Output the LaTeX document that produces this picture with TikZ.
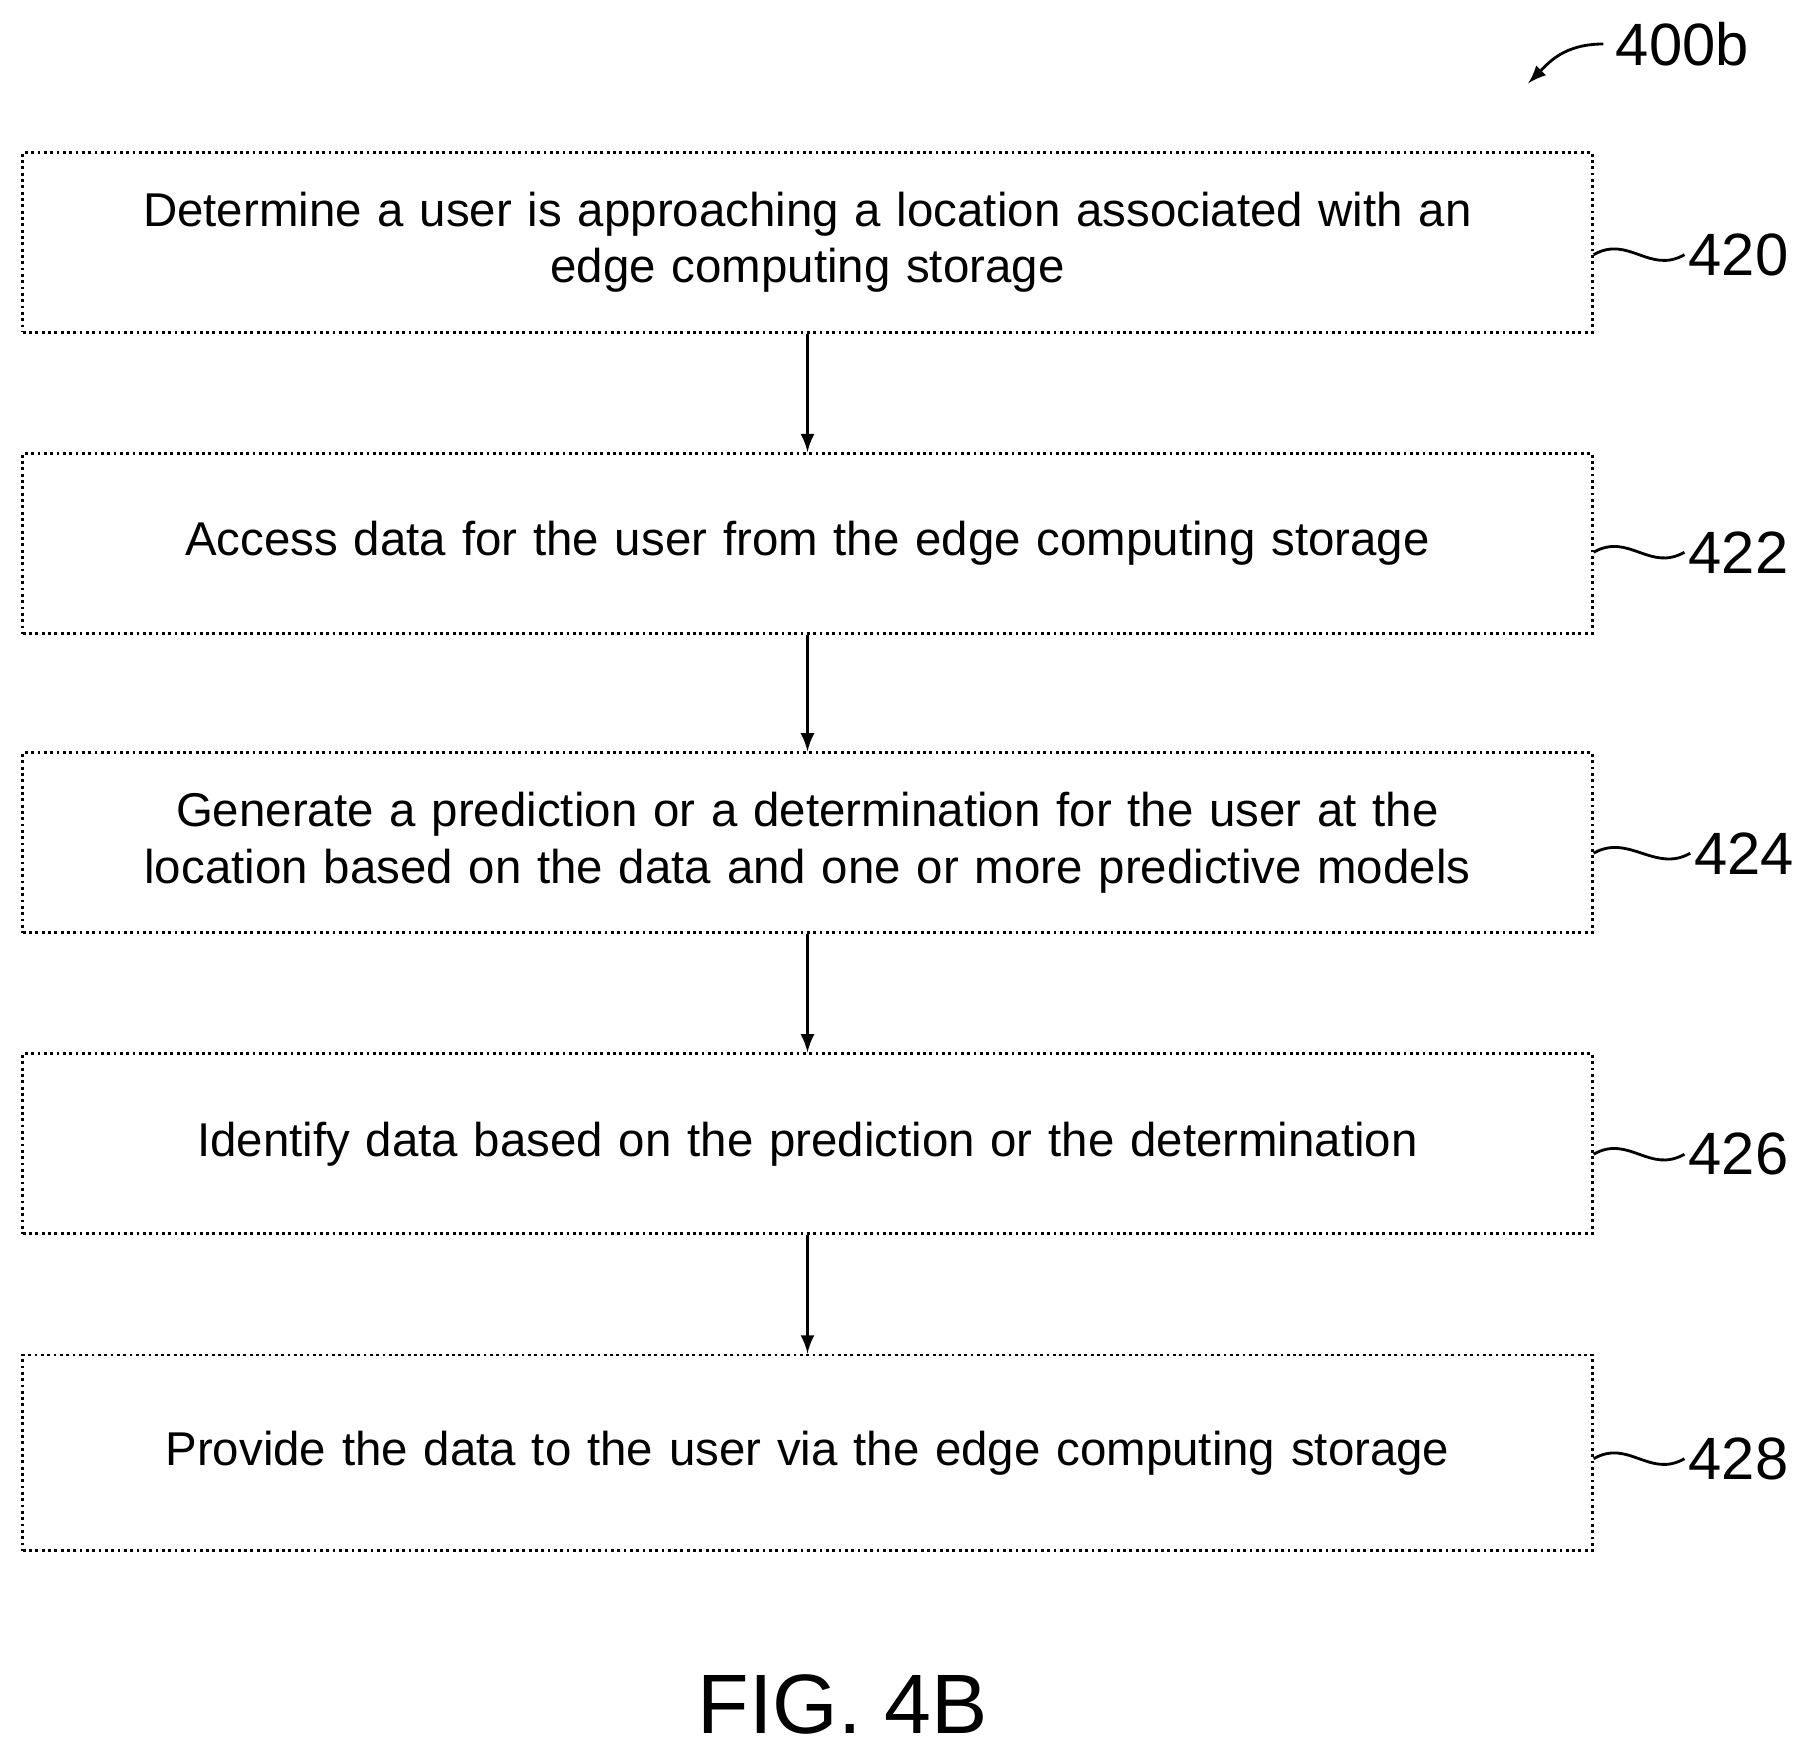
\documentclass[tikz,border=0pt]{standalone}
\usepackage{fontspec}
\setmainfont{Liberation Sans}
\usetikzlibrary{calc}

\begin{document}
\begin{tikzpicture}[x=0.011577cm, y=-0.011577cm,
    stepbox/.style={draw, thick, densely dotted, rectangle, minimum width=15.7cm, minimum height=1.8cm,
      align=center, text width=14.6cm, font=\fontsize{13.5}{16}\selectfont},
    ref/.style={font=\fontsize{17}{20}\selectfont, anchor=west, inner sep=1pt},
    flow/.style={draw, thick, -latex}]
    \useasboundingbox (0,0) rectangle (1560,1506);% Reference margins

    \node[stepbox] (s420) at (697.5,209.5) {Determine a user is approaching a location associated with an\\ edge computing storage};
    \node[stepbox] (s422) at (697.5,469.5) {Access data for the user from the edge computing storage};
    \node[stepbox] (s424) at (697.5,728) {Generate a prediction or a determination for the user at the\\ location based on the data and one or more predictive models};
    \node[stepbox] (s426) at (697.5,988) {Identify data based on the prediction or the determination};
    \node[stepbox, minimum height=1.96cm] (s428) at (697.5,1255) {Provide the data to the user via the edge computing storage};

    \node[ref] (r420) at (1455,220) {420};
    \node[ref] (r422) at (1455,477) {422};
    \node[ref] (r424) at (1460,737) {424};
    \node[ref] (r426) at (1455,997) {426};
    \node[ref] (r428) at (1455,1260) {428};

    \foreach \a/\b in {s420/s422, s422/s424, s424/s426, s426/s428}{% Connect the steps
      \draw[flow] (\a) -- (\b);
    }
    \foreach \s in {420,422,424,426,428}{% Wavy leader lines
      \draw[thick] (s\s.east |- r\s.west) .. controls +(0.35cm,0.2cm) and +(-0.35cm,-0.2cm) .. (r\s.west);
    }

    \node[font=\fontsize{17}{20}\selectfont, anchor=west] (fig) at (1385,38) {400b};
    \coordinate (figtip) at (1320,72);
    \draw[thick, -latex] (fig.west) .. controls +(-0.4cm,0) and +(0.2cm,0.2cm) .. (figtip);

    \node[font=\fontsize{24}{28}\selectfont] (caption) at (728,1472) {FIG. 4B};
\end{tikzpicture}
\end{document}
